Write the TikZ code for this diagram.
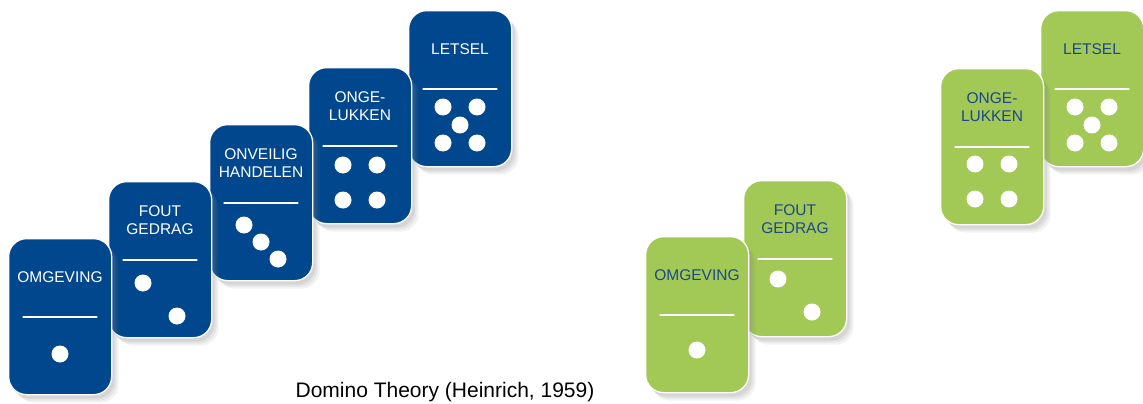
\documentclass[tikz,border=0pt]{standalone}
\usepackage{fontspec}
\setmainfont{Liberation Sans}
\usetikzlibrary{shadows}

\definecolor{domblue}{RGB}{0,71,141}
\definecolor{domgreen}{RGB}{162,200,86}
\definecolor{domink}{RGB}{30,72,140}

\tikzset{
  tile/.style={rounded corners=18pt,draw=white,line width=1.3pt,
    minimum width=103pt,minimum height=156pt,inner sep=0pt,anchor=north west,
    drop shadow={shadow xshift=7pt,shadow yshift=-8pt,opacity=0.10},
    drop shadow={shadow xshift=5pt,shadow yshift=-6pt,opacity=0.12},
    drop shadow={shadow xshift=3pt,shadow yshift=-4pt,opacity=0.15}},
  tiletext/.style={font=\fontsize{15.5}{18.5}\selectfont,align=center,inner sep=0pt},
  divider/.style={white,line width=1.3pt},
  pip/.style={circle,fill=white,minimum size=17pt,inner sep=0pt},
}

% one domino: name, top-left corner, fill, ink, title, pip positions
\newcommand{\domino}[7]{%
  \node[tile,fill=#4] (#1) at (#2,#3) {};
  \begin{scope}[shift={(#1.north west)}]
    \node[tiletext,text=#5] (#1-title) at (52,39) {#6};
    \draw[divider] (15,79) -- (89,79);
    \foreach \px/\py [count=\k] in {#7}
      \node[pip] (#1-pip\k) at (\px,\py) {};
  \end{scope}
}

\begin{document}
\begin{tikzpicture}[x=1pt,y=-1pt,line cap=round,line join=round]
  \useasboundingbox (0,0) rectangle (1143,404);

  % The full blue chain, drawn back to front so each tile lies on the next one.
  \domino{bletsel}{408}{10}{domblue}{white}{LETSEL}{35/97,69/97,52/115,35/133,69/133}
  \domino{bongeluk}{308}{67}{domblue}{white}{ONGE-\\LUKKEN}{35/98,69/98,35/133,69/133}
  \domino{bhandel}{209}{124}{domblue}{white}{ONVEILIG\\HANDELEN}{35/101,52/118,69/135}
  \domino{bgedrag}{108}{181}{domblue}{white}{FOUT\\GEDRAG}{35/102,69/135}
  \domino{bomgev}{8}{238}{domblue}{white}{OMGEVING}{52/116}

  % The green chain with the middle tile taken out.
  \domino{gletsel}{1040}{10}{domgreen}{domink}{LETSEL}{35/97,69/97,52/115,35/133,69/133}
  \domino{gongeluk}{940}{68}{domgreen}{domink}{ONGE-\\LUKKEN}{35/96,69/96,35/131,69/131}
  \domino{ggedrag}{743}{180}{domgreen}{domink}{FOUT\\GEDRAG}{35/99,69/132}
  \domino{gomgev}{645}{236}{domgreen}{domink}{OMGEVING}{52/114}

  \node[font=\fontsize{21}{24}\selectfont] (caption) at (445,392) {Domino Theory (Heinrich, 1959)};
\end{tikzpicture}
\end{document}
